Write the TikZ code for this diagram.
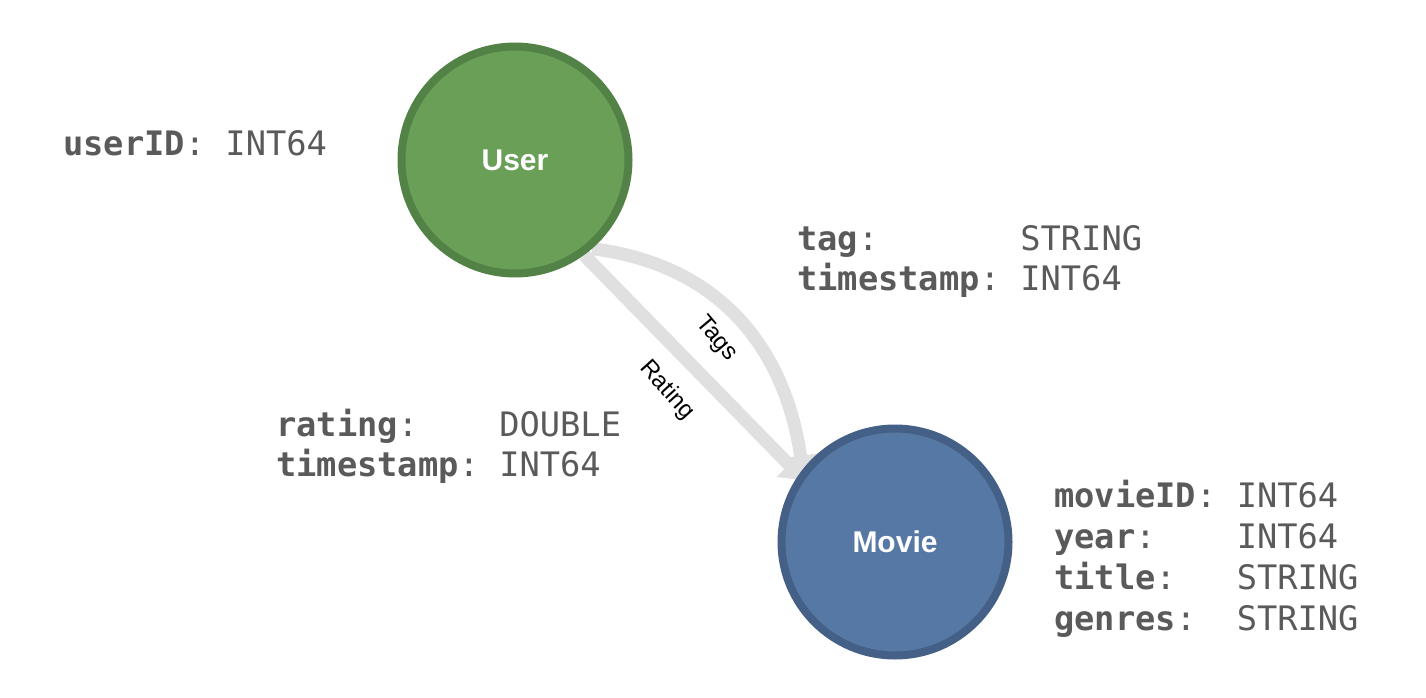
\documentclass[tikz,border=0pt]{standalone}
\usepackage{fontspec}
\setmainfont{Liberation Sans}
\newfontfamily\propfont{DejaVu Sans Mono}
\usetikzlibrary{arrows.meta,backgrounds}
\definecolor{userfill}{HTML}{6A9F58}
\definecolor{userborder}{HTML}{538246}
\definecolor{moviefill}{HTML}{5678A5}
\definecolor{movieborder}{HTML}{456086}
\definecolor{edgegray}{HTML}{E0E0E0}
\definecolor{propgray}{HTML}{5A5A5A}
\newcommand{\prp}[3]{\makebox[#3][l]{\textbf{#1}:}#2}
\begin{document}
\begin{tikzpicture}[x=1pt,y=-1pt,
  entity/.style={circle, line width=8pt, minimum size=227pt, inner sep=0pt,
    text=white, font=\bfseries\fontsize{30}{36}\selectfont},
  prop/.style={anchor=base west, inner sep=0pt, text=propgray,
    font=\propfont\fontsize{33.7}{40}\selectfont},
  rel/.style={draw=edgegray, line width=13pt,
    -{Triangle[length=22pt,width=34pt]}, shorten >=-8pt},
  elabel/.style={font=\fontsize{24}{28}\selectfont, text=black, inner sep=0pt}]
\useasboundingbox (0,0) rectangle (1426,698);

\node[entity, fill=userfill, draw=userborder] (user) at (515,160) {User};
\node[entity, fill=moviefill, draw=movieborder] (movie) at (895,542) {Movie};

\begin{pgfonlayer}{background}
\fill[white] (0,0) rectangle (1426,698);
\draw[rel] (user.-54) -- (movie.145);
\draw[rel] (user.-49) .. controls (745,268) and (790,380) .. (movie.142);
\end{pgfonlayer}

\node[elabel, rotate=-48] (lrating) at (667,390) {Rating};
\node[elabel, rotate=-50] (ltags) at (716,339) {Tags};

\node[prop] (p1) at (63,155) {\prp{userID}{INT64}{4.816em}};

\node[prop] (p2) at (797,250) {\prp{tag}{STRING}{6.622em}};
\node[prop] (p3) at (797,290) {\prp{timestamp}{INT64}{6.622em}};

\node[prop] (p4) at (276,436) {\prp{rating}{DOUBLE}{6.622em}};
\node[prop] (p5) at (276,476) {\prp{timestamp}{INT64}{6.622em}};

\node[prop] (p6) at (1054,507) {\prp{movieID}{INT64}{5.418em}};
\node[prop] (p7) at (1054,548) {\prp{year}{INT64}{5.418em}};
\node[prop] (p8) at (1054,589) {\prp{title}{STRING}{5.418em}};
\node[prop] (p9) at (1054,630) {\prp{genres}{STRING}{5.418em}};
\end{tikzpicture}
\end{document}
